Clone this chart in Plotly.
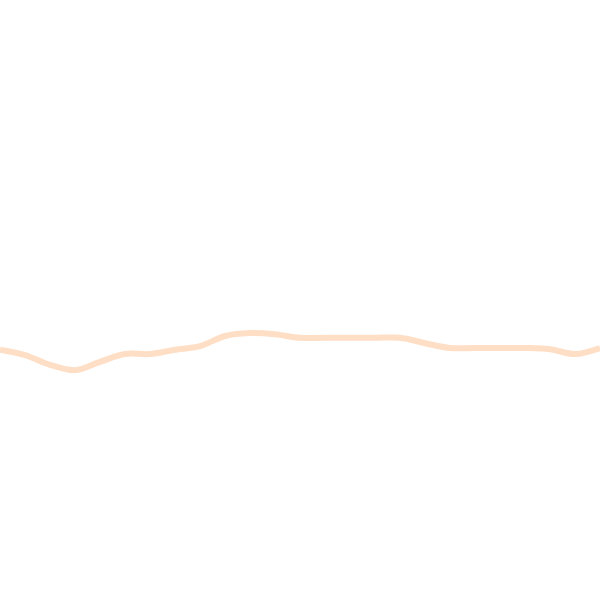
import plotly.graph_objects as go

# Data (one point every ~25 px across the width)
steps = list(range(25))
values = [4.17, 4.08, 3.92, 3.83, 3.97, 4.10, 4.10, 4.17, 4.23, 4.40,
          4.45, 4.43, 4.37, 4.37, 4.37, 4.37, 4.37, 4.28, 4.20, 4.20,
          4.20, 4.20, 4.18, 4.10, 4.20]


def create_line():
    fig = go.Figure()

    # Single faint peach line, nothing else on the page
    fig.add_trace(go.Scatter(
        x=steps,
        y=values,
        mode="lines",
        line=dict(color="#FFDEC6", width=6, shape="spline"),
        hoverinfo="skip",
        showlegend=False
    ))

    fig.update_layout(
        width=600,
        height=600,
        margin=dict(l=0, r=0, t=0, b=0),
        plot_bgcolor="white",
        paper_bgcolor="white",
        xaxis=dict(visible=False, range=[0, 24]),
        yaxis=dict(visible=False, range=[0, 10])
    )
    return fig


if __name__ == "__main__":
    fig = create_line()
    # drop the default page margin so the figure sits at the window corner
    fig.write_html(
        "out.html",
        config={"displayModeBar": False},
        post_script="document.body.style.margin='0';"
    )
